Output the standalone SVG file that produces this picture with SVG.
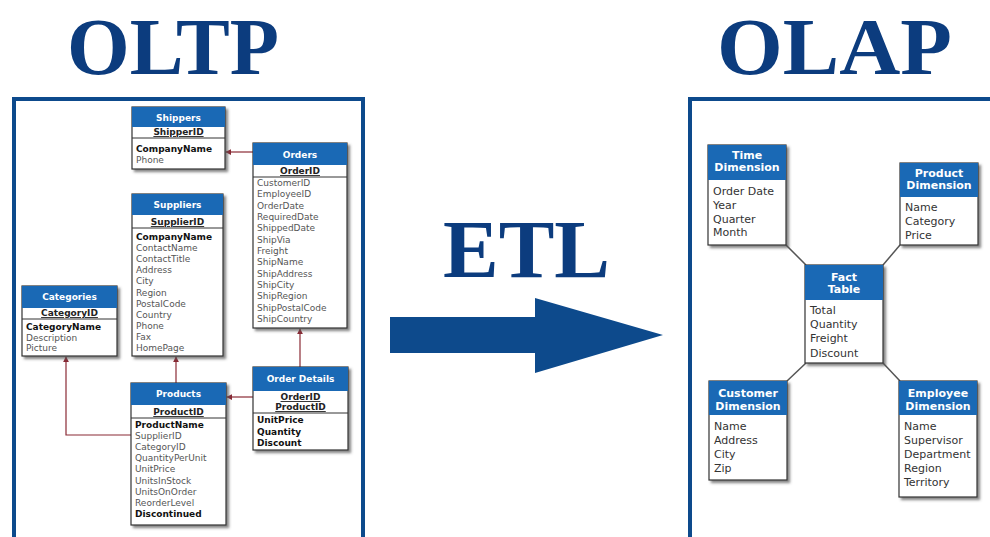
<svg xmlns="http://www.w3.org/2000/svg" width="990" height="537" viewBox="0 0 990 537">
<defs>
<filter id="sh" x="-10%" y="-10%" width="130%" height="130%"><feDropShadow dx="2.5" dy="2.5" stdDeviation="1.2" flood-color="#555" flood-opacity="0.7"/></filter>
<marker id="ah" viewBox="0 0 8 8" refX="7" refY="4" markerWidth="6" markerHeight="6" orient="auto" markerUnits="userSpaceOnUse"><path d="M0,0 L8,4 L0,8 z" fill="#8a2a35"/></marker>
<style>
.title{font-family:"Liberation Serif","Times New Roman",serif;font-weight:bold;fill:#0c3c7e}
.panel{fill:#fff;stroke:#0d4a8c;stroke-width:4}
.box{fill:#fff;stroke:#333;stroke-width:1.2;filter:url(#sh)}
.hd{fill:#1a69b5}
.sep{stroke:#333;stroke-width:1}
.ht{font-family:"DejaVu Sans",Verdana,sans-serif;font-size:9px;font-weight:bold;fill:#fff;text-anchor:middle}
.kt{font-family:"DejaVu Sans",Verdana,sans-serif;font-size:9px;font-weight:bold;fill:#222;text-anchor:middle;text-decoration:underline}
.ft{font-family:"DejaVu Sans",Verdana,sans-serif;font-size:9px;fill:#555}
.fb{font-family:"DejaVu Sans",Verdana,sans-serif;font-size:9px;font-weight:bold;fill:#111}
.dh{font-family:"DejaVu Sans",Verdana,sans-serif;font-size:11px;font-weight:bold;fill:#fff;text-anchor:middle}
.dt{font-family:"DejaVu Sans",Verdana,sans-serif;font-size:11px;fill:#333}
.rl{fill:none;stroke:#8a2a35;stroke-width:1.2}
.gl{fill:none;stroke:#555;stroke-width:1.5}
</style>
</defs>
<rect width="990" height="537" fill="#fff"/>
<g id="titles">
<text class="title" x="67" y="74" font-size="81" textLength="212" lengthAdjust="spacingAndGlyphs">OLTP</text>
<text class="title" x="717" y="74" font-size="81" textLength="235" lengthAdjust="spacingAndGlyphs">OLAP</text>
<text class="title" x="443" y="277" font-size="83" textLength="167" lengthAdjust="spacingAndGlyphs">ETL</text>
</g>
<g id="etl-arrow"><polygon points="390,317 535,317 535,298 663,335 535,373 535,353 390,353" fill="#0d4a8c"/></g>
<rect class="panel" x="14" y="99" width="349" height="470"/>
<rect class="panel" x="690" y="99" width="330" height="470"/>

<g id="connectors">
<line class="rl" x1="253" y1="152" x2="226" y2="152" marker-end="url(#ah)"/>
<line class="rl" x1="176" y1="383" x2="176" y2="357" marker-end="url(#ah)"/>
<line class="rl" x1="253" y1="397" x2="227" y2="397" marker-end="url(#ah)"/>
<line class="rl" x1="300" y1="367" x2="300" y2="329" marker-end="url(#ah)"/>
<path class="rl" d="M131,435 H66 V357" marker-end="url(#ah)"/>
<line class="gl" x1="786" y1="245" x2="806" y2="265"/>
<line class="gl" x1="900" y1="245" x2="883" y2="265"/>
<line class="gl" x1="787" y1="381" x2="806" y2="363"/>
<line class="gl" x1="883" y1="363" x2="900" y2="381"/>
</g>

<g id="shippers">
<rect class="box" x="132" y="107" width="93" height="62"/>
<rect class="hd" x="132" y="107" width="93" height="20"/>
<text class="ht" x="178.5" y="121">Shippers</text>
<text class="kt" x="178.5" y="135">ShipperID</text>
<line class="sep" x1="132" y1="138" x2="225" y2="138"/>
<text class="fb" x="136" y="152">CompanyName</text>
<text class="ft" x="136" y="163">Phone</text>
</g>

<g id="orders">
<rect class="box" x="253" y="143" width="94" height="185"/>
<rect class="hd" x="253" y="143" width="94" height="22"/>
<text class="ht" x="300" y="158">Orders</text>
<text class="kt" x="300" y="174">OrderID</text>
<line class="sep" x1="253" y1="177" x2="347" y2="177"/>
<text class="ft" x="257" y="186">CustomerID</text>
<text class="ft" x="257" y="197">EmployeeID</text>
<text class="ft" x="257" y="209">OrderDate</text>
<text class="ft" x="257" y="220">RequiredDate</text>
<text class="ft" x="257" y="231">ShippedDate</text>
<text class="ft" x="257" y="243">ShipVia</text>
<text class="ft" x="257" y="254">Freight</text>
<text class="ft" x="257" y="265">ShipName</text>
<text class="ft" x="257" y="277">ShipAddress</text>
<text class="ft" x="257" y="288">ShipCity</text>
<text class="ft" x="257" y="299">ShipRegion</text>
<text class="ft" x="257" y="311">ShipPostalCode</text>
<text class="ft" x="257" y="322">ShipCountry</text>
</g>

<g id="suppliers">
<rect class="box" x="132" y="194" width="91" height="162"/>
<rect class="hd" x="132" y="194" width="91" height="21"/>
<text class="ht" x="177.5" y="208">Suppliers</text>
<text class="kt" x="177.5" y="225">SupplierID</text>
<line class="sep" x1="132" y1="228" x2="223" y2="228"/>
<text class="fb" x="136" y="240">CompanyName</text>
<text class="ft" x="136" y="251">ContactName</text>
<text class="ft" x="136" y="262">ContactTitle</text>
<text class="ft" x="136" y="273">Address</text>
<text class="ft" x="136" y="284">City</text>
<text class="ft" x="136" y="296">Region</text>
<text class="ft" x="136" y="307">PostalCode</text>
<text class="ft" x="136" y="318">Country</text>
<text class="ft" x="136" y="329">Phone</text>
<text class="ft" x="136" y="340">Fax</text>
<text class="ft" x="136" y="351">HomePage</text>
</g>

<g id="categories">
<rect class="box" x="22" y="286" width="95" height="70"/>
<rect class="hd" x="22" y="286" width="95" height="22"/>
<text class="ht" x="69.5" y="300">Categories</text>
<text class="kt" x="69.5" y="316">CategoryID</text>
<line class="sep" x1="22" y1="319" x2="117" y2="319"/>
<text class="fb" x="26" y="330">CategoryName</text>
<text class="ft" x="26" y="341">Description</text>
<text class="ft" x="26" y="351">Picture</text>
</g>

<g id="products">
<rect class="box" x="131" y="383" width="95" height="142"/>
<rect class="hd" x="131" y="383" width="95" height="22"/>
<text class="ht" x="178.5" y="397">Products</text>
<text class="kt" x="178.5" y="415">ProductID</text>
<line class="sep" x1="131" y1="418" x2="226" y2="418"/>
<text class="fb" x="135" y="428">ProductName</text>
<text class="ft" x="135" y="439">SupplierID</text>
<text class="ft" x="135" y="450">CategoryID</text>
<text class="ft" x="135" y="461">QuantityPerUnit</text>
<text class="ft" x="135" y="472">UnitPrice</text>
<text class="ft" x="135" y="484">UnitsInStock</text>
<text class="ft" x="135" y="495">UnitsOnOrder</text>
<text class="ft" x="135" y="506">ReorderLevel</text>
<text class="fb" x="135" y="517">Discontinued</text>
</g>

<g id="order-details">
<rect class="box" x="253" y="367" width="95" height="83"/>
<rect class="hd" x="253" y="367" width="95" height="24"/>
<text class="ht" x="300.5" y="382">Order Details</text>
<text class="kt" x="300.5" y="400">OrderID</text>
<text class="kt" x="300.5" y="410">ProductID</text>
<line class="sep" x1="253" y1="413" x2="348" y2="413"/>
<text class="fb" x="257" y="423">UnitPrice</text>
<text class="fb" x="257" y="435">Quantity</text>
<text class="fb" x="257" y="446">Discount</text>
</g>

<g id="time-dimension">
<rect class="box" x="708" y="145" width="78" height="100"/>
<rect class="hd" x="708" y="145" width="78" height="35"/>
<text class="dh" x="747" y="159">Time</text>
<text class="dh" x="747" y="171">Dimension</text>
<text class="dt" x="713" y="195">Order Date</text>
<text class="dt" x="713" y="209">Year</text>
<text class="dt" x="713" y="223">Quarter</text>
<text class="dt" x="713" y="236">Month</text>
</g>

<g id="product-dimension">
<rect class="box" x="900" y="163" width="78" height="82"/>
<rect class="hd" x="900" y="163" width="78" height="34"/>
<text class="dh" x="939" y="177">Product</text>
<text class="dh" x="939" y="189">Dimension</text>
<text class="dt" x="905" y="211">Name</text>
<text class="dt" x="905" y="225">Category</text>
<text class="dt" x="905" y="239">Price</text>
</g>

<g id="fact-table">
<rect class="box" x="805" y="265" width="78" height="98"/>
<rect class="hd" x="805" y="265" width="78" height="35"/>
<text class="dh" x="844" y="281">Fact</text>
<text class="dh" x="844" y="293">Table</text>
<text class="dt" x="810" y="314">Total</text>
<text class="dt" x="810" y="328">Quantity</text>
<text class="dt" x="810" y="342">Freight</text>
<text class="dt" x="810" y="357">Discount</text>
</g>

<g id="customer-dimension">
<rect class="box" x="709" y="381" width="78" height="99"/>
<rect class="hd" x="709" y="381" width="78" height="34"/>
<text class="dh" x="748" y="397">Customer</text>
<text class="dh" x="748" y="410">Dimension</text>
<text class="dt" x="714" y="430">Name</text>
<text class="dt" x="714" y="444">Address</text>
<text class="dt" x="714" y="458">City</text>
<text class="dt" x="714" y="472">Zip</text>
</g>

<g id="employee-dimension">
<rect class="box" x="899" y="381" width="78" height="116"/>
<rect class="hd" x="899" y="381" width="78" height="34"/>
<text class="dh" x="938" y="397">Employee</text>
<text class="dh" x="938" y="410">Dimension</text>
<text class="dt" x="904" y="430">Name</text>
<text class="dt" x="904" y="444">Supervisor</text>
<text class="dt" x="904" y="458">Department</text>
<text class="dt" x="904" y="472">Region</text>
<text class="dt" x="904" y="486">Territory</text>
</g>
</svg>
